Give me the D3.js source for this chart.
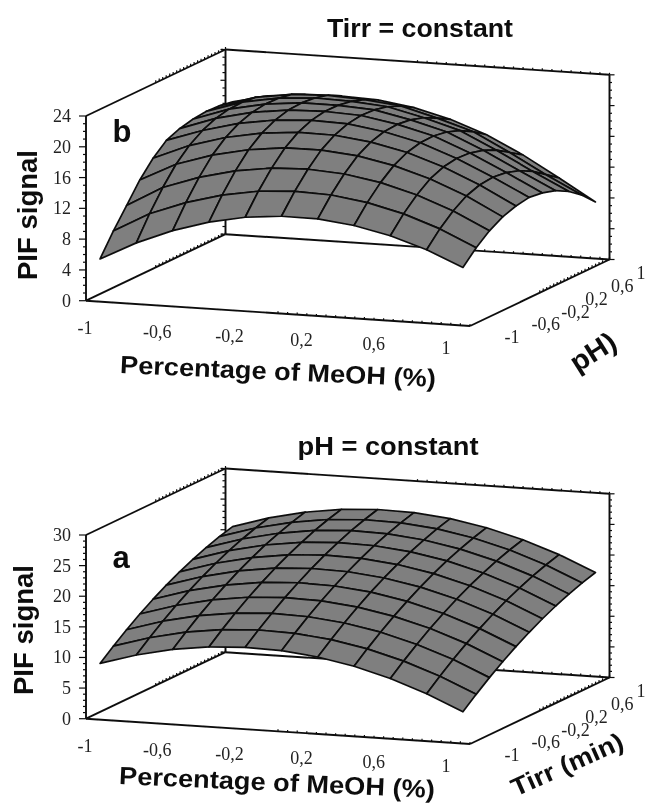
<!DOCTYPE html>
<html><head><meta charset="utf-8"><script src="https://cdn.jsdelivr.net/npm/d3@7"></script>
<style>html,body{margin:0;background:#fff}svg{display:block}</style></head><body><svg id="c" width="646" height="805"></svg>
<script>
const xTickValues=[-1,-0.6,-0.2,0.2,0.6,1];
const xTickLabels=["-1","-0,6","-0,2","0,2","0,6","1"];
const depthNudge=[0,8,12,7,7,0];
const zTicksB=[0,4,8,12,16,20,24];
const zTicksA=[0,5,10,15,20,25,30];
const surfaceX=[-0.945,-0.756,-0.567,-0.378,-0.189,0,0.189,0.378,0.567,0.756,0.945];
const surfaceDepth=[-0.95,-0.76,-0.57,-0.38,-0.19,0,0.19,0.38,0.57,0.76,0.95];
const surfaceB=[
[5.3,7.7,9.6,11.02,11.96,12.4,12.36,11.82,10.8,9.3,7.3],
[8.1,10.66,12.42,13.71,14.52,14.82,14.65,13.97,12.82,11.18,9.05],
[10.6,13.25,14.88,16.03,16.7,16.87,16.56,15.75,14.46,12.69,10.42],
[13.1,15.45,16.95,17.96,18.5,18.53,18.09,17.14,15.72,13.81,11.41],
[15.1,17.06,18.42,19.3,19.7,19.64,19.06,18.02,16.44,14.42,12.0],
[16.6,18.2,19.43,20.17,20.44,20.3,19.59,18.47,16.73,14.6,12.3],
[17.3,18.95,20.04,20.65,20.78,20.57,19.72,18.53,16.62,14.39,12.06],
[17.7,19.33,20.29,20.76,20.75,20.47,19.49,18.22,16.15,13.81,11.53],
[17.9,19.42,20.24,20.58,20.44,20.06,18.94,17.58,15.35,12.9,10.6],
[17.8,19.22,19.91,20.11,19.84,19.34,18.08,16.61,14.23,11.66,9.29],
[17.5,18.6,19.1,19.2,19.0,18.3,17.1,15.4,13.1,10.4,7.6]];
const surfaceA=[
[8.87,10.64,11.93,12.74,13.06,12.9,12.26,11.14,9.53,7.44,4.87],
[10.65,12.42,13.72,14.53,14.86,14.7,14.06,12.95,11.34,9.26,6.69],
[12.31,14.09,15.39,16.2,16.53,16.38,15.75,14.64,13.03,10.95,8.39],
[13.84,15.62,16.92,17.75,18.08,17.93,17.3,16.19,14.6,12.52,9.96],
[15.23,17.02,18.32,19.15,19.48,19.34,18.72,17.61,16.02,13.94,11.39],
[16.5,18.29,19.6,20.43,20.77,20.63,20.01,18.91,17.32,15.25,12.7],
[17.64,19.43,20.75,21.58,21.93,21.79,21.17,20.08,18.49,16.43,13.88],
[18.65,20.45,21.77,22.6,22.95,22.82,22.2,21.12,19.53,17.47,14.93],
[19.53,21.33,22.65,23.5,23.85,23.72,23.11,22.02,20.45,18.39,15.85],
[20.28,22.09,23.41,24.26,24.61,24.49,23.89,22.8,21.23,19.17,16.64],
[20.9,22.71,24.04,24.89,25.25,25.13,24.53,23.45,21.88,19.83,17.3]];

const svg=d3.select("#c");
const defs=svg.append("defs");
defs.append("filter").attr("id","soft").attr("x","-5%").attr("y","-5%").attr("width","110%").attr("height","110%")
 .append("feGaussianBlur").attr("stdDeviation",0.45);
const root=svg.append("g").attr("filter","url(#soft)");
const SANS="'Liberation Sans',Arial,sans-serif", SERIF="'Liberation Serif','Times New Roman',serif";
const INK="#0d0d0d";

function panel(o){
 const g=root.append("g");
 const xPx=d3.scaleLinear([-1,1],[86,470]), xPy=d3.scaleLinear([-1,1],[0,25.3]);
 const yPx=d3.scaleLinear([-1,1],[0,139.5]), yPy=d3.scaleLinear([-1,1],[0,-66.5]);
 const zPy=d3.scaleLinear([0,o.zMax],[0,-o.zH]);
 const P=(x,y,z)=>[xPx(x)+yPx(y), o.y0+xPy(x)+yPy(y)+zPy(z)];
 const line=d3.line();
 const stroke=(pts,w=1.9)=>g.append("path").attr("d",line(pts)).attr("fill","none").attr("stroke",INK).attr("stroke-width",w);
 const zM=o.zMax;
 [[[-1,-1,0],[1,-1,0]],[[-1,-1,0],[-1,1,0]],[[-1,1,0],[1,1,0]],[[1,-1,0],[1,1,0]],
  [[-1,-1,0],[-1,-1,zM]],[[-1,1,0],[-1,1,zM]],[[1,1,0],[1,1,zM]],
  [[-1,-1,zM],[-1,1,zM]],[[-1,1,zM],[1,1,zM]]].forEach(s=>stroke(s.map(p=>P(...p))));
 const fine=d3.scaleLinear([-1,1]).ticks(20);
 const tooth=(p,dx,dy)=>stroke([p,[p[0]+dx,p[1]+dy]],1.2);
 fine.forEach(t=>{
  tooth(P(t,-1,0),0,-2); tooth(P(t,1,0),0,-2); tooth(P(t,1,zM),0,-2);
  tooth(P(-1,t,0),0,-2.5); tooth(P(-1,t,zM),0,-2.5); tooth(P(1,t,0),0,-2.5);
 });
 const minor=d3.range(0,zM+0.001,o.zMinor);
 minor.forEach(v=>{
  const major=o.zTicks.includes(v);
  tooth(P(-1,-1,v),major?-7:-3,0);
  tooth(P(-1,1,v),major?-5:-3,0);
  tooth(P(1,1,v),major?5:2.5,0);
 });
 g.selectAll(null).data(o.zTicks).join("text").attr("font-family",SERIF).attr("font-size",18).attr("fill","#222")
  .attr("text-anchor","end").attr("dominant-baseline","central")
  .attr("x",71).attr("y",d=>P(-1,-1,d)[1]).text(d=>d);
 const cells=[];
 for(let j=o.surface.length-2;j>=0;j--)for(let i=0;i<surfaceX.length-1;i++){
  cells.push([[i,j],[i+1,j],[i+1,j+1],[i,j+1]].map(([a,b])=>P(surfaceX[a],surfaceDepth[b],o.surface[b][a])));
 }
 g.selectAll(null).data(cells).join("path").attr("d",d=>line(d)+"Z")
  .attr("fill","#7f7f7f").attr("stroke",INK).attr("stroke-width",1.7).attr("stroke-linejoin","round");
 const lx=d3.scaleLinear([-1,1],[85,446]), ly=d3.scaleLinear([-1,1],[o.y0+27.5,o.y0+47.5]);
 g.selectAll(null).data(xTickValues).join("text").attr("font-family",SERIF).attr("font-size",18).attr("fill","#222")
  .attr("text-anchor","middle").attr("dominant-baseline","central")
  .attr("x",d=>lx(d)).attr("y",d=>ly(d)).text((d,i)=>xTickLabels[i]);
 const dx=d3.scaleLinear([-1,1],[512,641]), dy=d3.scaleLinear([-1,1],[o.y0+36.5,o.y0-27.5]);
 g.selectAll(null).data(xTickValues).join("text").attr("font-family",SERIF).attr("font-size",18).attr("fill","#222")
  .attr("text-anchor","middle").attr("dominant-baseline","central")
  .attr("x",(d,i)=>dx(d)+depthNudge[i]).attr("y",d=>dy(d)).text((d,i)=>xTickLabels[i]);
 const bold=(t,x,y,size,rot,len,ds)=>{
  const e=g.append("text").attr("font-family",SANS).attr("font-weight","bold").attr("font-size",ds||size).attr("fill","#111")
   .attr("text-anchor","middle").attr("dominant-baseline","central")
   .attr("transform",`translate(${x},${y}) rotate(${rot})`).text(t);
  if(len)e.attr("textLength",len).attr("lengthAdjust","spacingAndGlyphs");
 };
 bold(o.title,o.titleX,o.titleY,25,0,o.titleLen);
 bold("PIF signal",o.pifX,o.pifY,28,-90,130);
 bold("Percentage of MeOH (%)",o.xtX,o.xtY,25,2.5,316);
 bold(o.depthTitle,o.dtX,o.dtY,o.dtSize,o.dtRot,o.dtLen);
 bold(o.letter,o.letX,o.letY,31,0);
}
panel({y0:300.7,zMax:24,zH:184.7,zMinor:1,zTicks:zTicksB,surface:surfaceB,title:"Tirr = constant",titleX:420,titleY:28,titleLen:186,
 pifX:27,pifY:215,xtX:278,xtY:371,depthTitle:"pH)",dtX:593,dtY:352,dtRot:-32,dtLen:49,dtSize:28,letter:"b",letX:122,letY:131});
panel({y0:718.7,zMax:30,zH:183.7,zMinor:1,zTicks:zTicksA,surface:surfaceA,title:"pH = constant",titleX:388,titleY:446,titleLen:181,
 pifX:23,pifY:630,xtX:277,xtY:782,depthTitle:"Tirr (min)",dtX:567,dtY:764,dtRot:-24,dtLen:120,dtSize:25,letter:"a",letX:121,letY:557});
</script></body></html>
